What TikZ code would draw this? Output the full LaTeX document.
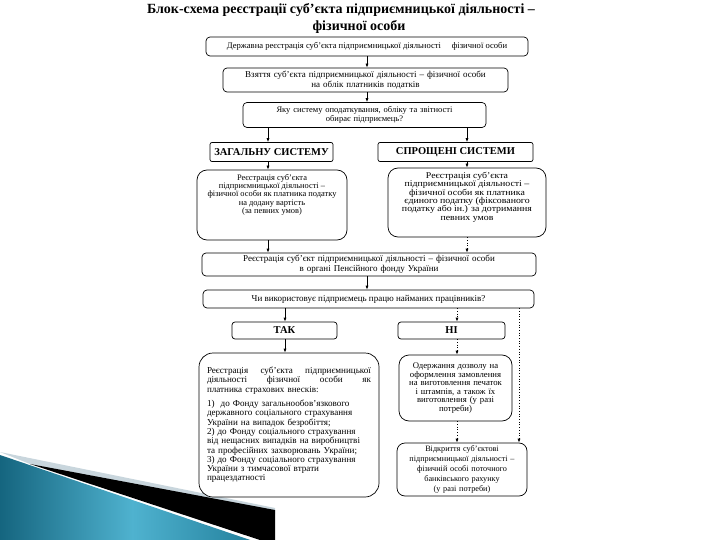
\documentclass[tikz,border=0pt]{standalone}
\usepackage{fontspec}
\setmainfont{Liberation Serif}
\newfontfamily\wideB[FakeStretch=1.12]{Liberation Serif}
\usetikzlibrary{arrows.meta}
\definecolor{tealA}{HTML}{15657F}
\definecolor{tealB}{HTML}{4FB2CF}
\definecolor{tealC}{HTML}{1F7C98}
\definecolor{greyband}{HTML}{C9D6DD}
\begin{document}
\begin{tikzpicture}[x=1pt,y=-1pt,
  fs/.style={font=\fontsize{9}{9.6}\selectfont},
  bx/.style={draw, line width=0.7pt, fill=white, rounded corners=4pt, inner sep=0pt, align=center, fs},
  hd/.style={bx, rounded corners=2pt, font=\fontsize{10.5}{11}\selectfont\bfseries},
  arr/.style={-{Latex[length=4pt,width=3pt]}, line width=0.7pt},
  darr/.style={arr, dotted}]
\useasboundingbox (0,0) rectangle (720,540);
% decorative swoosh
\begin{scope}
\clip (0,0) rectangle (720,540);
\fill[greyband] (0,452) -- (275,508) -- (275,514) -- (30,464) -- cycle;
\fill[black] (30,464) -- (275,510) -- (275,545) -- cycle;
\shade[left color=tealA, right color=tealC, middle color=tealB] (0,455) -- (265,545) -- (0,545) -- cycle;
\end{scope}
% title
\node[font=\fontsize{14}{17}\selectfont\bfseries] (t1) at (341,10) {Блок-схема реєстрації суб’єкта підприємницької діяльності –};
\node[font=\fontsize{14}{17}\selectfont\bfseries] (t2) at (359,27) {фізичної особи};
% column coordinates
\coordinate (cM) at (367,0);
\coordinate (cL) at (268,0);
\coordinate (cR) at (467,0);
\coordinate (c2L) at (285,0);
\coordinate (c2R) at (457,0);
\coordinate (cD) at (519,0);
% boxes
\node[bx, font=\fontsize{8.6}{9.5}\selectfont, minimum width=322pt, minimum height=19pt] (b1) at (367,46.5)
  {Державна реєстрація суб’єкта підприємницької діяльності \quad фізичної особи};
\node[bx, minimum width=285pt, minimum height=24pt, text width=275pt] (b2) at (365.5,80)
  {Взяття суб’єкта підприємницької діяльності – фізичної особи\\на облік платників податків};
\node[bx, font=\fontsize{8.5}{9.5}\selectfont, minimum width=243pt, minimum height=25pt, text width=235pt] (b3) at (364.5,115)
  {Яку систему оподаткування, обліку та звітності\\обирає підприємець?};
\node[hd, minimum width=123pt, minimum height=19pt] (zag) at (271.5,152) {ЗАГАЛЬНУ СИСТЕМУ};
\node[hd, minimum width=155pt, minimum height=19pt] (spr) at (455.5,152) {СПРОЩЕНІ СИСТЕМИ};
\node[bx, rounded corners=10pt, minimum width=150pt, minimum height=70pt] (lm) at (272,205)
  {\parbox[c][62pt][t]{145pt}{\centering\fontsize{8.4}{8.4}\selectfont
   Реєстрація суб’єкта\\підприємницької діяльності –\\фізичної особи як платника податку\\на додану вартість\\(за певних умов)}};
\node[bx, rounded corners=10pt, minimum width=158pt, minimum height=69pt] (rm) at (467,202.5)
  {\parbox[c][61pt][t]{152pt}{\centering\wideB\fontsize{8.8}{8.4}\selectfont
   Реєстрація суб’єкта\\підприємницької діяльності –\\фізичної особи як платника\\єдиного податку (фіксованого\\податку або ін.) за дотримання\\певних умов}};
\node[bx, minimum width=334pt, minimum height=23pt, text width=325pt] (pf) at (369,264.5)
  {Реєстрація суб’єкт підприємницької діяльності – фізичної особи\\в органі Пенсійного фонду України};
\node[bx, minimum width=331pt, minimum height=18pt] (q) at (368.5,299)
  {Чи використовує підприємець працю найманих працівників?};
\node[hd, rounded corners=3pt, minimum width=105pt, minimum height=17pt] (tak) at (284.5,330.5) {ТАК};
\node[hd, rounded corners=3pt, minimum width=107pt, minimum height=17pt] (ni) at (451.5,330.5) {НІ};
\node[bx, rounded corners=14pt, minimum width=180pt, minimum height=144pt, text width=164pt, align=left,
      font=\fontsize{9.1}{9.3}\selectfont] (big) at (289,425)
  {\hbox to \linewidth{Реєстрація\hfill суб’єкта\hfill підприємницької}
   \hbox to \linewidth{діяльності\hfill фізичної\hfill особи\hfill як}
   платника страхових внесків:\\[5pt]
   1)\ \ до Фонду загальнообов’язкового\\
   державного соціального страхування\\
   України на випадок безробіття;\\
   2) до Фонду соціального страхування\\
   від нещасних випадків на виробництві\\
   та професійних захворювань України;\\
   3) до Фонду соціального страхування\\
   України з тимчасової втрати\\
   працездатності};
\node[bx, font=\fontsize{8.7}{8.6}\selectfont, rounded corners=10pt, minimum width=113pt, minimum height=66pt, text width=110pt] (od) at (455.5,388)
  {Одержання дозволу на\\оформлення замовлення\\на виготовлення печаток\\і штампів, а також їх\\виготовлення (у разі\\потреби)};
\node[bx, font=\fontsize{8.2}{10.2}\selectfont, rounded corners=8pt, minimum width=130pt, minimum height=53pt, text width=126pt] (last) at (462,469.5)
  {Відкриття суб’єктові\\підприємницької діяльності –\\фізичній особі поточного\\банківського рахунку\\(у разі потреби)};
% connectors
\draw[arr] (b1.south -| cM) -- (b2.north -| cM);
\draw[arr] (b2.south -| cM) -- (b3.north -| cM);
\draw[arr] (b3.south -| cL) -- (zag.north -| cL);
\draw[arr] (b3.south -| cR) -- (spr.north -| cR);
\draw[arr] (zag.south -| cL) -- (lm.north -| cL);
\draw[arr] (spr.south -| cR) -- (rm.north -| cR);
\draw[arr] (lm.south -| cL) -- (pf.north -| cL);
\draw[darr] (rm.south -| cR) -- (pf.north -| cR);
\draw[arr] (pf.south -| cM) -- (q.north -| cM);
\draw[arr] (q.south -| c2L) -- (tak.north -| c2L);
\draw[darr] (q.south -| c2R) -- (ni.north -| c2R);
\draw[arr] (tak.south -| c2L) -- (big.north -| c2L);
\draw[darr] (ni.south -| c2R) -- (od.north -| c2R);
\draw[darr] (od.south -| c2R) -- (last.north -| c2R);
\draw[darr] (q.south -| cD) -- (last.north -| cD);
\end{tikzpicture}
\end{document}
